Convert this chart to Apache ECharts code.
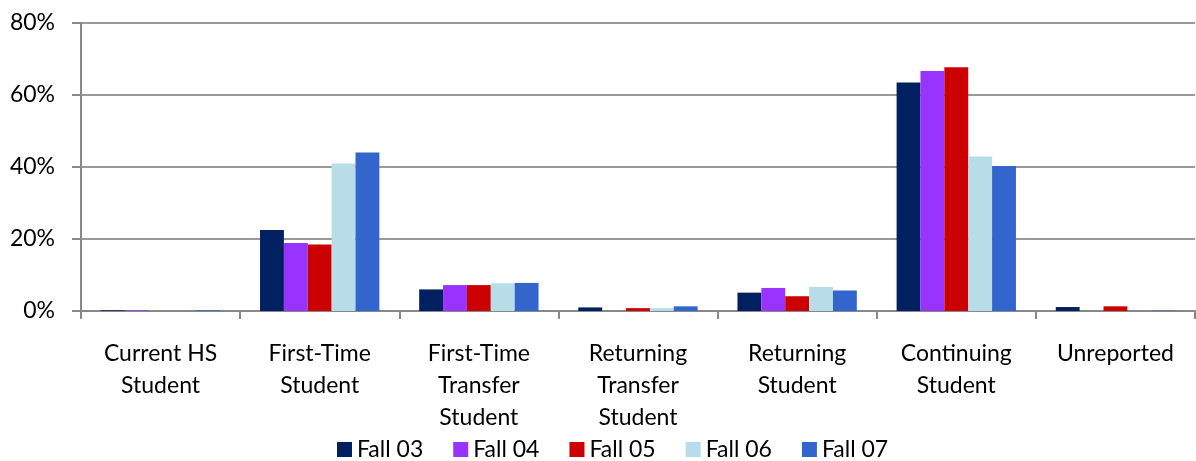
<!DOCTYPE html>
<html>
<head>
<meta charset="utf-8">
<script src="https://cdn.jsdelivr.net/npm/echarts@6/dist/echarts.min.js"></script>
<style>
  html, body { margin: 0; padding: 0; background: #fff; }
  #chart { width: 1196px; height: 461px; }
</style>
</head>
<body>
<div id="chart"></div>
<script>
// categories (x axis)
var categories = ['Current HS\nStudent', 'First-Time\nStudent', 'First-Time\nTransfer\nStudent',
  'Returning\nTransfer\nStudent', 'Returning\nStudent', 'Continuing\nStudent', 'Unreported'];

// percent values per term
var fall03 = [0.2, 22.5, 6.0, 1.0, 5.1, 63.5, 1.1];
var fall04 = [0.2, 18.9, 7.2, 0.0, 6.4, 66.7, 0.0];
var fall05 = [0.0, 18.5, 7.2, 0.8, 4.1, 67.7, 1.3];
var fall06 = [0.0, 41.0, 7.7, 0.8, 6.7, 42.9, 0.0];
var fall07 = [0.2, 44.0, 7.8, 1.3, 5.7, 40.3, 0.1];

var seriesNames = ['Fall 03', 'Fall 04', 'Fall 05', 'Fall 06', 'Fall 07'];
var seriesColors = ['#002060', '#9933FF', '#CC0000', '#B7DDE8', '#3366CC'];
var seriesData = [fall03, fall04, fall05, fall06, fall07];

var fontFam = 'Lato, "Open Sans", sans-serif';

var chart = echarts.init(document.getElementById('chart'));

chart.setOption({
  backgroundColor: '#ffffff',
  animation: false,
  grid: {
    left: 81,
    right: 1,
    top: 23,
    bottom: 150
  },
  legend: {
    bottom: 0,
    left: 337,
    padding: 0,
    itemWidth: 15,
    itemHeight: 15,
    itemGap: 30,
    icon: 'rect',
    textStyle: { fontFamily: fontFam, fontSize: 23, color: '#000' },
    data: seriesNames
  },
  xAxis: {
    type: 'category',
    data: categories,
    axisLine: { lineStyle: { color: '#888', width: 2 } },
    axisTick: { show: true, length: 8, lineStyle: { color: '#888', width: 2 } },
    axisLabel: {
      fontFamily: fontFam,
      fontSize: 23,
      color: '#000',
      lineHeight: 32,
      margin: 27,
      interval: 0
    }
  },
  yAxis: {
    type: 'value',
    min: 0,
    max: 80,
    interval: 20,
    axisLine: { show: true, lineStyle: { color: '#888', width: 2 } },
    axisTick: { show: true, length: 9, lineStyle: { color: '#888', width: 2 } },
    splitLine: { lineStyle: { color: '#999', width: 2 } },
    axisLabel: {
      fontFamily: fontFam,
      fontSize: 23,
      color: '#000',
      margin: 26,
      formatter: '{value}%'
    }
  },
  series: seriesNames.map(function (name, i) {
    return {
      name: name,
      type: 'bar',
      data: seriesData[i],
      barGap: '0%',
      barCategoryGap: '25%',
      itemStyle: { color: seriesColors[i] }
    };
  })
});
</script>
</body>
</html>
